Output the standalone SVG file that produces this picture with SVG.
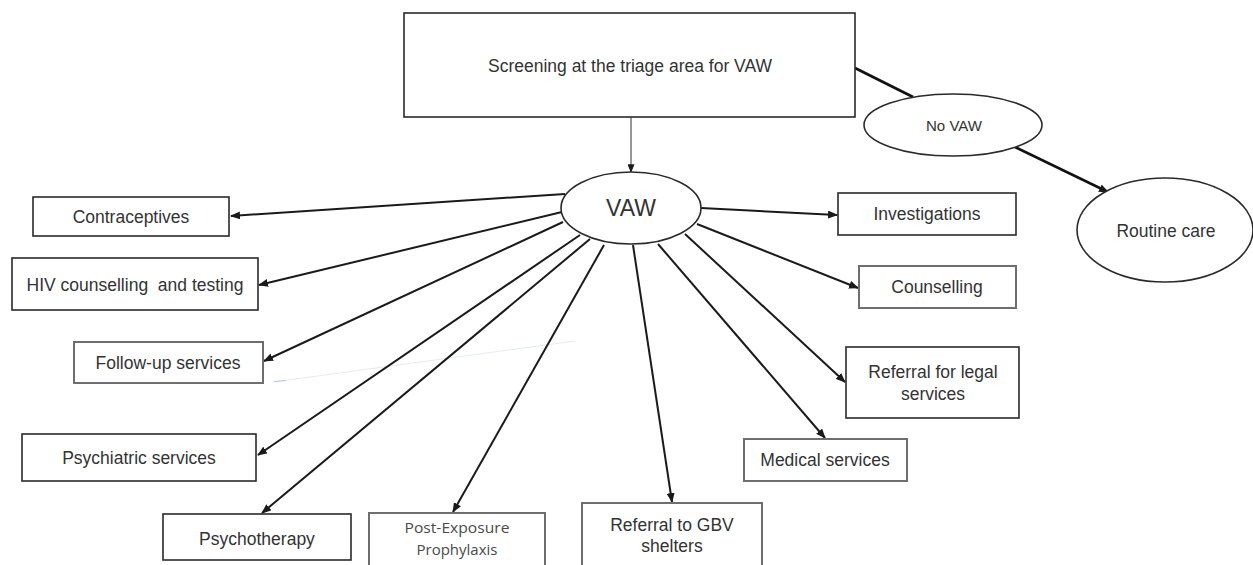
<svg xmlns="http://www.w3.org/2000/svg" width="1253" height="565" viewBox="0 0 1253 565">
<style>
.box{fill:#fff;stroke:#2a2a2a;stroke-width:1.6}
.boxg{fill:#fff;stroke:#6e6e6e;stroke-width:2}
.ell{fill:#fff;stroke:#2a2a2a;stroke-width:1.6}
.t{font-family:"Liberation Sans",Arial,sans-serif;font-size:17.5px;fill:#333;text-anchor:middle}
.tc{font-family:"Open Sans","Noto Sans",sans-serif;font-size:15px;fill:#4a4a4a;text-anchor:middle}
.c{stroke:#1a1a1a;stroke-width:2;fill:none;marker-end:url(#ah)}
</style>
<defs>
<marker id="ah" viewBox="0 0 10 8" refX="9" refY="4" markerWidth="10" markerHeight="8" markerUnits="userSpaceOnUse" orient="auto"><path d="M0,0 L10,4 L0,8 z" fill="#1a1a1a"/></marker>
<marker id="ahs" viewBox="0 0 10 8" refX="9" refY="4" markerWidth="9" markerHeight="7" markerUnits="userSpaceOnUse" orient="auto"><path d="M0,0 L10,4 L0,8 z" fill="#1a1a1a"/></marker>
</defs>
<rect width="1253" height="565" fill="#fff"/>
<g id="artifact">
<line x1="273" y1="382" x2="575" y2="341" stroke="#e6eaf6" stroke-width="1"/>
<line x1="274" y1="381.5" x2="286" y2="380.5" stroke="#b9c5e8" stroke-width="1.2"/>
</g>
<g id="connectors">
<line x1="631" y1="117" x2="631" y2="172" stroke="#333" stroke-width="1" marker-end="url(#ahs)"/>
<line x1="855" y1="68" x2="913" y2="97" stroke="#111" stroke-width="2.8"/>
<line x1="1015" y1="147" x2="1108" y2="192" stroke="#111" stroke-width="2.6" marker-end="url(#ah)"/>
<line class="c" x1="565" y1="194" x2="231" y2="216"/>
<line class="c" x1="562" y1="212" x2="259" y2="285"/>
<line class="c" x1="563" y1="222" x2="264" y2="361"/>
<line class="c" x1="580" y1="235" x2="258" y2="455"/>
<line class="c" x1="590" y1="239" x2="262" y2="513"/>
<line class="c" x1="604" y1="245" x2="453" y2="512"/>
<line class="c" x1="633" y1="245" x2="672" y2="502"/>
<line class="c" x1="658" y1="244" x2="825" y2="438"/>
<line class="c" x1="685" y1="234" x2="845" y2="382"/>
<line class="c" x1="697" y1="224" x2="858" y2="288"/>
<line class="c" x1="701" y1="208" x2="837" y2="215"/>
</g>
<g id="screening"><rect class="box" x="404" y="13" width="451" height="104"/><text class="t" x="630" y="72">Screening at the triage area for VAW</text></g>
<g id="vaw"><ellipse class="ell" cx="631" cy="208" rx="70" ry="36"/><text class="t" x="631" y="216" style="font-size:23px">VAW</text></g>
<g id="novaw"><ellipse class="ell" cx="953" cy="125" rx="89" ry="31"/><text class="t" x="954" y="131" style="font-size:15px" textLength="56" lengthAdjust="spacingAndGlyphs">No VAW</text></g>
<g id="routine"><ellipse class="ell" cx="1165" cy="230" rx="88" ry="52"/><text class="t" x="1166" y="237">Routine care</text></g>
<g id="contraceptives"><rect class="box" x="33" y="197" width="196" height="39"/><text class="t" x="131" y="223">Contraceptives</text></g>
<g id="hiv"><rect class="box" x="12" y="258" width="246" height="52"/><text class="t" x="135" y="291" xml:space="preserve">HIV counselling  and testing</text></g>
<g id="followup"><rect class="boxg" x="74" y="342" width="189" height="41"/><text class="t" x="168" y="369">Follow-up services</text></g>
<g id="psychiatric"><rect class="box" x="22" y="434" width="234" height="47"/><text class="t" x="139" y="464">Psychiatric services</text></g>
<g id="psychotherapy"><rect class="box" x="163" y="514" width="188" height="46"/><text class="t" x="257" y="545">Psychotherapy</text></g>
<g id="pep"><rect class="boxg" x="369" y="513" width="176" height="58"/><text class="tc" x="457" y="533" textLength="105" lengthAdjust="spacingAndGlyphs">Post-Exposure</text><text class="tc" x="457" y="555">Prophylaxis</text></g>
<g id="gbv"><rect class="boxg" x="582" y="503" width="180" height="66"/><text class="t" x="672" y="531">Referral to GBV</text><text class="t" x="672" y="552">shelters</text></g>
<g id="medical"><rect class="boxg" x="744" y="439" width="163" height="42"/><text class="t" x="825" y="466">Medical services</text></g>
<g id="legal"><rect class="box" x="846" y="347" width="173" height="71"/><text class="t" x="933" y="378">Referral for legal</text><text class="t" x="933" y="400">services</text></g>
<g id="counselling"><rect class="boxg" x="859" y="266" width="157" height="42"/><text class="t" x="937" y="293">Counselling</text></g>
<g id="investigations"><rect class="box" x="838" y="193" width="178" height="42"/><text class="t" x="927" y="220">Investigations</text></g>
</svg>
